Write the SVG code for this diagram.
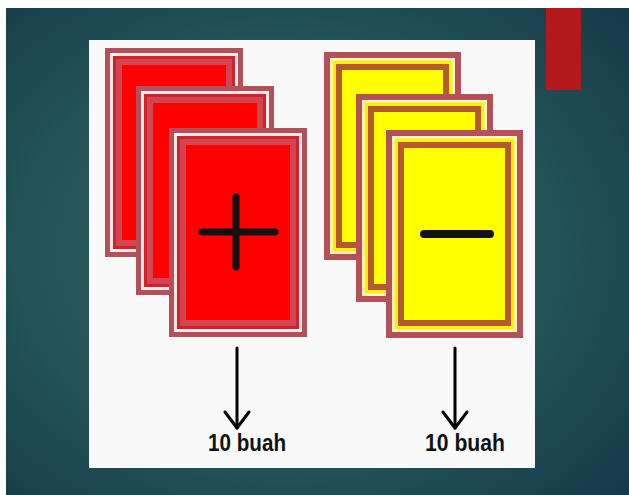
<svg xmlns="http://www.w3.org/2000/svg" xmlns:xlink="http://www.w3.org/1999/xlink" width="629" height="495" viewBox="0 0 629 495">
  <style>
    .lbl { font-family: "Liberation Sans", Arial, sans-serif; font-weight: bold; font-size: 23px; fill: #111; }
    .arrow { stroke: #000; stroke-width: 3; fill: none; stroke-linecap: round; stroke-linejoin: round; }
    .sign { stroke: #111; fill: none; stroke-linecap: round; }
  </style>
  <defs>
    <radialGradient id="bg" cx="0.45" cy="0.5" r="0.75">
      <stop offset="0" stop-color="#2e6264"/>
      <stop offset="0.55" stop-color="#245459"/>
      <stop offset="1" stop-color="#153849"/>
    </radialGradient>
    <g id="redCard">
      <rect width="138" height="209" fill="#b5505a"/>
      <rect x="5" y="5" width="128" height="199" fill="#fdeaea"/>
      <rect x="8" y="8" width="122" height="193" fill="#d81e2a"/>
      <rect x="11" y="11" width="116" height="187" fill="#cf4550"/>
      <rect x="17" y="17" width="104" height="175" fill="#ff0000"/>
    </g>
    <g id="yellowCard">
      <rect width="137" height="208" fill="#b5505a"/>
      <rect x="6" y="6" width="125" height="196" fill="#fff4c4"/>
      <rect x="8.5" y="8.5" width="120" height="191" fill="#fcef10"/>
      <rect x="12" y="12" width="113" height="184" fill="#b45a2c"/>
      <rect x="18" y="18" width="101" height="172" fill="#ffff00"/>
    </g>
  </defs>

  <rect width="629" height="495" fill="#ffffff"/>
  <rect x="6" y="8" width="623" height="487" fill="url(#bg)"/>
  <rect id="panel" x="89" y="40" width="446" height="428" fill="#f9f9f9"/>
  <rect id="accent" x="546" y="8" width="35" height="82" fill="#b3191a"/>

  <g id="red-card-1"><use xlink:href="#redCard" x="105" y="48"/></g>
  <g id="red-card-2"><use xlink:href="#redCard" x="136" y="86"/></g>
  <g id="red-card-3">
    <use xlink:href="#redCard" x="169" y="128"/>
    <line class="sign" x1="202" y1="232" x2="275" y2="232" stroke-width="7"/>
    <line class="sign" x1="236" y1="197" x2="236" y2="267" stroke-width="7"/>
  </g>

  <g id="yellow-card-1"><use xlink:href="#yellowCard" x="324" y="52"/></g>
  <g id="yellow-card-2"><use xlink:href="#yellowCard" x="356" y="94"/></g>
  <g id="yellow-card-3">
    <use xlink:href="#yellowCard" x="386" y="130"/>
    <line class="sign" x1="424" y1="234" x2="490" y2="234" stroke-width="8"/>
  </g>

  <g id="connectors">
    <line class="arrow" x1="237" y1="348" x2="237" y2="428"/>
    <polyline class="arrow" points="225,412 237,428 249,412" stroke-width="4"/>
    <line class="arrow" x1="455" y1="348" x2="455" y2="428"/>
    <polyline class="arrow" points="443,412 455,428 467,412" stroke-width="4"/>
  </g>

  <g id="label-left"><text class="lbl" x="208" y="451" textLength="78" lengthAdjust="spacingAndGlyphs">10 buah</text></g>
  <g id="label-right"><text class="lbl" x="425" y="451" textLength="80" lengthAdjust="spacingAndGlyphs">10 buah</text></g>
</svg>
